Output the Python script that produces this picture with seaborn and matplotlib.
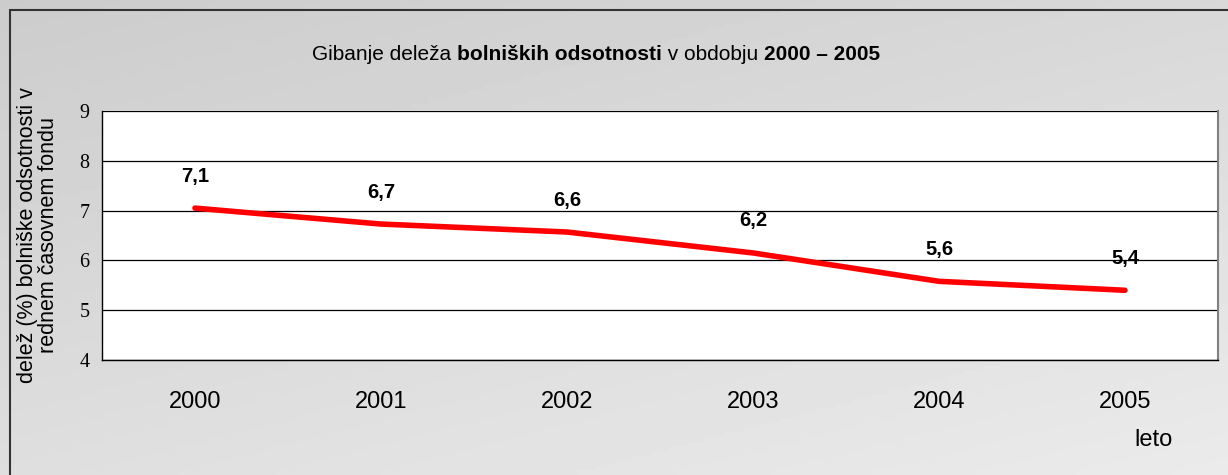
import numpy as np
import pandas as pd
import seaborn as sns
import matplotlib.pyplot as plt
from matplotlib.patches import Rectangle

# podatki
leta = ['2000', '2001', '2002', '2003', '2004', '2005']
delez = [7.05, 6.73, 6.57, 6.15, 5.58, 5.40]
oznake = ['7,1', '6,7', '6,6', '6,2', '5,6', '5,4']
y_ticks = [4, 5, 6, 7, 8, 9]

df = pd.DataFrame({'leto': leta, 'delez': delez, 'poz': range(len(leta))})

sns.set_style('white')
plt.rcParams['font.family'] = ['Liberation Sans', 'DejaVu Sans']
plt.rcParams['text.color'] = 'black'
plt.rcParams['xtick.color'] = 'black'
plt.rcParams['ytick.color'] = 'black'

fig = plt.figure(figsize=(12.28, 4.75), dpi=100)

# sivo ozadje s prelivom
bg = fig.add_axes([0, 0, 1, 1], zorder=-5)
gx, gy = np.meshgrid(np.linspace(0, 1, 200), np.linspace(0, 1, 100))
grad = 0.80 + 0.12 * (0.6 * gy + 0.4 * gx)
bg.imshow(grad, cmap='gray', vmin=0, vmax=1, aspect='auto', extent=[0, 1, 0, 1])
bg.add_patch(Rectangle((10 / 1228, -0.1), 1.1, 1 - 10 / 475 + 0.1, fill=False,
                       edgecolor='#333333', lw=1.5, transform=bg.transAxes))
bg.set_axis_off()

ax = fig.add_axes([102 / 1228, 1 - 360 / 475, 1116 / 1228, 249 / 475])
ax.set_facecolor('white')

sns.lineplot(data=df, x='poz', y='delez', ax=ax, color='#ff0000', lw=4,
             solid_capstyle='round', zorder=3)

for x, y, t in zip(df['poz'], df['delez'], oznake):
    ax.annotate(t, (x, y), xytext=(0, 23), textcoords='offset points',
                ha='center', va='center', fontsize=14.5, fontweight='bold')

ax.set_xlim(-0.5, len(leta) - 0.5)
ax.set_ylim(4, 9)
ax.set_yticks(y_ticks)
ax.set_yticklabels([str(v) for v in y_ticks], family='Liberation Serif', fontsize=14.5)
ax.set_xticks(range(len(leta)))
ax.set_xticklabels(leta, fontsize=17)
ax.set_xticks(np.arange(-0.5, len(leta), 1), minor=True)
ax.tick_params(axis='x', which='major', length=0, pad=22)
ax.tick_params(axis='x', which='minor', length=6, width=1, color='black', direction='out')
ax.tick_params(axis='y', length=5, width=1, color='black', direction='out', pad=4)
ax.yaxis.grid(True, color='black', lw=0.9)
ax.set_axisbelow(True)

for s in ['left', 'bottom']:
    ax.spines[s].set_color('black')
    ax.spines[s].set_linewidth(1)
ax.spines['right'].set_color('#808080')
ax.spines['right'].set_linewidth(1.5)
ax.spines['top'].set_visible(False)

ax.set_xlabel('')
ax.set_ylabel('')

# naslov z mešano pisavo
deli = [('Gibanje deleža ', 'normal'), ('bolniških odsotnosti', 'bold'),
        (' v obdobju ', 'normal'), ('2000 – 2005', 'bold')]
x0 = 312 / 1228
fig.canvas.draw()
r = fig.canvas.get_renderer()
for besedilo, teza in deli:
    t = fig.text(x0, 1 - 55 / 475, besedilo, fontsize=15, fontweight=teza,
                 va='center', ha='left')
    x0 = t.get_window_extent(r).x1 / 1228

fig.text(38 / 1228, 1 - 235 / 475, 'delež (%) bolniške odsotnosti v\nrednem časovnem fondu',
         rotation=90, ha='center', va='center', fontsize=15.5, linespacing=1.05)
fig.text(1153 / 1228, 1 - 440 / 475, 'leto', ha='center', va='center', fontsize=17)

fig.savefig('out.png', dpi=100)
